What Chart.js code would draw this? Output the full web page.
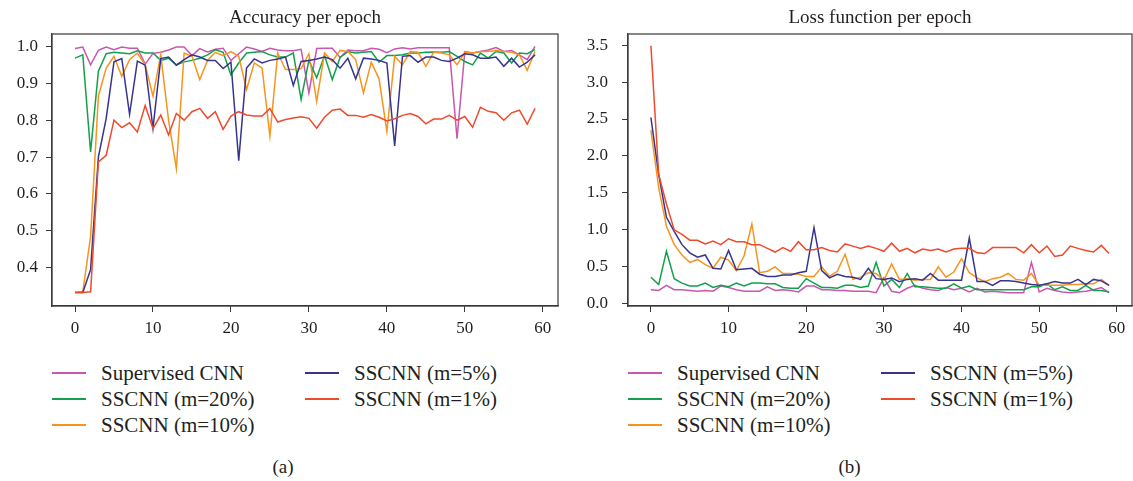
<!DOCTYPE html>
<html>
<head>
<meta charset="utf-8">
<script src="https://cdn.jsdelivr.net/npm/chart.js@4.4.1/dist/chart.umd.min.js"></script>
<style>
    html, body { margin: 0; padding: 0; background: #fff; }
    body { width: 1133px; height: 481px; position: relative; overflow: hidden; font-family: 'Liberation Serif', 'Times New Roman', serif; color: #231f20; }
    .panel { position: absolute; top: 0; height: 481px; }
    .panel canvas { position: absolute; left: 0; top: 0; }
    .legend-item { position: absolute; height: 24px; white-space: nowrap; font-size: 21px; line-height: 24px; }
    .legend-item .swatch { position: absolute; left: 0; top: 11px; width: 34px; height: 2px; }
    .legend-item .text { position: absolute; left: 49px; top: 0; }
    .caption { position: absolute; top: 456px; width: 100%; text-align: center; font-size: 19px; line-height: 22px; }
</style>
</head>
<body>
<div class="panel" id="panelA" style="left:0;width:566px;">
    <canvas id="accChart" width="566" height="345"></canvas>
</div>
<div class="panel" id="panelB" style="left:566px;width:567px;">
    <canvas id="lossChart" width="567" height="345"></canvas>
</div>
<script>
// ---- data ----
const epochs = [0, 1, 2, 3, 4, 5, 6, 7, 8, 9, 10, 11, 12, 13, 14, 15, 16, 17, 18, 19,
    20, 21, 22, 23, 24, 25, 26, 27, 28, 29, 30, 31, 32, 33, 34, 35, 36, 37, 38, 39,
    40, 41, 42, 43, 44, 45, 46, 47, 48, 49, 50, 51, 52, 53, 54, 55, 56, 57, 58, 59];

const seriesNames = ['Supervised CNN', 'SSCNN (m=20%)', 'SSCNN (m=10%)', 'SSCNN (m=5%)', 'SSCNN (m=1%)'];
const seriesColors = ['#c857b0', '#13a04c', '#f7941e', '#37338f', '#ef4a2c'];

const xTicks = [0, 10, 20, 30, 40, 50, 60];
const accTicks = [0.4, 0.5, 0.6, 0.7, 0.8, 0.9, 1.0];
const lossTicks = [0.0, 0.5, 1.0, 1.5, 2.0, 2.5, 3.0, 3.5];

// Accuracy per epoch
const accSupervised = [0.994, 0.998, 0.950, 0.989, 0.998, 0.991, 0.998, 0.995, 0.995, 0.952,
    0.981, 0.984, 0.990, 0.998, 0.998, 0.975, 0.994, 0.985, 0.992, 0.995,
    0.962, 0.980, 0.998, 0.993, 0.986, 0.995, 0.990, 0.988, 0.988, 0.992,
    0.874, 0.994, 0.995, 0.995, 0.970, 0.990, 0.988, 0.988, 0.995, 0.992,
    0.983, 0.993, 0.996, 0.993, 0.996, 0.996, 0.996, 0.996, 0.996, 0.750,
    0.986, 0.982, 0.986, 0.990, 0.997, 0.986, 0.989, 0.977, 0.964, 1.000];
const accM20 = [0.968, 0.977, 0.714, 0.933, 0.980, 0.984, 0.982, 0.980, 0.988, 0.982,
    0.982, 0.962, 0.968, 0.950, 0.958, 0.962, 0.968, 0.977, 0.991, 0.984,
    0.923, 0.955, 0.982, 0.984, 0.986, 0.977, 0.971, 0.971, 0.982, 0.856,
    0.962, 0.915, 0.975, 0.910, 0.970, 0.986, 0.982, 0.984, 0.986, 0.957,
    0.975, 0.975, 0.977, 0.982, 0.982, 0.984, 0.985, 0.984, 0.986, 0.973,
    0.959, 0.950, 0.982, 0.968, 0.986, 0.982, 0.955, 0.982, 0.980, 0.991];
const accM10 = [0.333, 0.335, 0.485, 0.865, 0.941, 0.973, 0.919, 0.964, 0.982, 0.950,
    0.865, 0.977, 0.800, 0.669, 0.982, 0.973, 0.910, 0.962, 0.984, 0.975,
    0.986, 0.973, 0.883, 0.955, 0.941, 0.757, 0.982, 0.937, 0.937, 0.940,
    0.980, 0.851, 0.982, 0.959, 0.989, 0.986, 0.964, 0.874, 0.957, 0.912,
    0.770, 0.973, 0.950, 0.986, 0.984, 0.946, 0.984, 0.982, 0.977, 0.950,
    0.984, 0.982, 0.986, 0.986, 0.989, 0.986, 0.984, 0.977, 0.935, 0.986];
const accM5 = [0.333, 0.333, 0.395, 0.700, 0.805, 0.958, 0.967, 0.816, 0.960, 0.949,
    0.778, 0.967, 0.971, 0.949, 0.964, 0.977, 0.971, 0.962, 0.962, 0.940,
    0.957, 0.690, 0.941, 0.966, 0.955, 0.962, 0.966, 0.971, 0.894, 0.959,
    0.962, 0.966, 0.971, 0.964, 0.941, 0.968, 0.912, 0.968, 0.966, 0.962,
    0.955, 0.730, 0.973, 0.975, 0.957, 0.971, 0.971, 0.962, 0.959, 0.968,
    0.980, 0.977, 0.968, 0.968, 0.971, 0.946, 0.968, 0.944, 0.957, 0.977];
const accM1 = [0.333, 0.333, 0.335, 0.687, 0.705, 0.800, 0.780, 0.793, 0.768, 0.840,
    0.777, 0.814, 0.760, 0.818, 0.800, 0.823, 0.832, 0.805, 0.823, 0.775,
    0.811, 0.823, 0.814, 0.811, 0.811, 0.832, 0.795, 0.802, 0.806, 0.809,
    0.805, 0.778, 0.808, 0.827, 0.830, 0.813, 0.813, 0.808, 0.815, 0.808,
    0.798, 0.804, 0.813, 0.818, 0.810, 0.790, 0.803, 0.803, 0.813, 0.800,
    0.810, 0.781, 0.835, 0.824, 0.820, 0.800, 0.820, 0.827, 0.789, 0.832];

// Loss function per epoch
const lossSupervised = [0.19, 0.18, 0.25, 0.19, 0.19, 0.18, 0.17, 0.18, 0.17, 0.24,
    0.22, 0.19, 0.17, 0.17, 0.17, 0.23, 0.18, 0.19, 0.18, 0.16,
    0.24, 0.24, 0.19, 0.19, 0.18, 0.18, 0.17, 0.17, 0.17, 0.15,
    0.35, 0.17, 0.15, 0.21, 0.25, 0.21, 0.19, 0.18, 0.22, 0.19,
    0.21, 0.16, 0.21, 0.16, 0.17, 0.16, 0.15, 0.15, 0.15, 0.56,
    0.16, 0.21, 0.18, 0.16, 0.15, 0.16, 0.17, 0.19, 0.22, 0.15];
const lossM20 = [0.36, 0.26, 0.71, 0.34, 0.28, 0.24, 0.24, 0.28, 0.22, 0.25,
    0.23, 0.28, 0.24, 0.28, 0.28, 0.27, 0.27, 0.22, 0.21, 0.21,
    0.34, 0.28, 0.22, 0.22, 0.21, 0.25, 0.25, 0.22, 0.24, 0.56,
    0.24, 0.33, 0.22, 0.41, 0.23, 0.23, 0.22, 0.21, 0.21, 0.27,
    0.21, 0.24, 0.19, 0.19, 0.19, 0.19, 0.19, 0.19, 0.19, 0.23,
    0.23, 0.27, 0.19, 0.23, 0.18, 0.18, 0.25, 0.18, 0.18, 0.16];
const lossM10 = [2.35, 1.57, 1.05, 0.80, 0.66, 0.56, 0.60, 0.53, 0.48, 0.63,
    0.59, 0.45, 0.65, 1.08, 0.42, 0.44, 0.50, 0.41, 0.41, 0.40,
    0.37, 0.37, 0.50, 0.37, 0.44, 0.67, 0.33, 0.36, 0.42, 0.41,
    0.32, 0.54, 0.33, 0.34, 0.32, 0.33, 0.33, 0.50, 0.36, 0.43,
    0.61, 0.42, 0.35, 0.30, 0.34, 0.36, 0.41, 0.33, 0.32, 0.41,
    0.25, 0.25, 0.25, 0.25, 0.26, 0.26, 0.27, 0.27, 0.33, 0.25];
const lossM5 = [2.52, 1.75, 1.17, 0.98, 0.80, 0.69, 0.63, 0.66, 0.48, 0.47,
    0.72, 0.46, 0.47, 0.48, 0.40, 0.37, 0.37, 0.39, 0.39, 0.42,
    0.44, 1.03, 0.45, 0.35, 0.40, 0.37, 0.36, 0.33, 0.48, 0.34,
    0.33, 0.35, 0.30, 0.33, 0.34, 0.32, 0.41, 0.32, 0.32, 0.32,
    0.32, 0.89, 0.30, 0.30, 0.25, 0.31, 0.31, 0.30, 0.28, 0.26,
    0.25, 0.27, 0.30, 0.28, 0.28, 0.33, 0.26, 0.33, 0.31, 0.25];
const lossM1 = [3.49, 1.75, 1.35, 1.00, 0.94, 0.86, 0.86, 0.81, 0.85, 0.80,
    0.88, 0.84, 0.84, 0.80, 0.80, 0.75, 0.70, 0.76, 0.71, 0.84,
    0.73, 0.73, 0.76, 0.72, 0.70, 0.81, 0.78, 0.75, 0.78, 0.75,
    0.71, 0.82, 0.71, 0.75, 0.69, 0.74, 0.72, 0.74, 0.70, 0.74,
    0.75, 0.75, 0.69, 0.68, 0.76, 0.76, 0.76, 0.76, 0.69, 0.80,
    0.69, 0.78, 0.64, 0.66, 0.78, 0.75, 0.72, 0.70, 0.79, 0.68];

const AXIS_COLOR = '#3a3a3a';
const TEXT_COLOR = '#231f20';
const FONT_FAMILY = "'Liberation Serif', 'Times New Roman', serif";

/**
 * Draws the closed box round the plot area (matplotlib style frame)
 * and the title centred over the plot area, not over the canvas
 */
const framePlugin = {
    id: 'frame',
    afterDraw(chart, args, opts) {
        const a = chart.chartArea;
        const ctx = chart.ctx;
        ctx.save();
        ctx.strokeStyle = AXIS_COLOR;
        ctx.lineWidth = 1.2;
        ctx.strokeRect(a.left, a.top, a.right - a.left, a.bottom - a.top);

        if (opts.title) {
            ctx.fillStyle = TEXT_COLOR;
            ctx.font = '19px ' + FONT_FAMILY;
            ctx.textAlign = 'center';
            ctx.textBaseline = 'middle';
            ctx.fillText(opts.title, (a.left + a.right) / 2, 18);
        }
        ctx.restore();
    }
};

function buildDatasets(seriesList) {
    return seriesList.map((values, i) => ({
        label: seriesNames[i],
        data: values.map((v, k) => ({ x: epochs[k], y: v })),
        borderColor: seriesColors[i],
        backgroundColor: seriesColors[i],
        borderWidth: 1.5,
        pointRadius: 0,
        tension: 0,
        fill: false,
        order: seriesList.length - i // later series on top, like the original
    }));
}

function makeChart(canvasId, opts) {
    const ctx = document.getElementById(canvasId).getContext('2d');
    return new Chart(ctx, {
        type: 'line',
        data: { datasets: buildDatasets(opts.series) },
        options: {
            responsive: false,
            animation: false,
            devicePixelRatio: 1,
            layout: { padding: { left: 0, right: opts.padRight, top: 34, bottom: 0 } },
            plugins: {
                legend: { display: false },
                tooltip: { enabled: false },
                title: { display: false },
                frame: { title: opts.title }
            },
            scales: {
                x: {
                    type: 'linear',
                    min: -2.95,
                    max: 61.95,
                    afterFit: s => { s.height = 39; },
                    afterBuildTicks: s => { s.ticks = xTicks.map(v => ({ value: v })); },
                    grid: { display: true, drawOnChartArea: false, drawTicks: true, tickLength: 6, color: AXIS_COLOR },
                    border: { display: true, color: AXIS_COLOR, width: 1.2 },
                    ticks: {
                        color: TEXT_COLOR,
                        padding: 6,
                        maxRotation: 0,
                        font: { family: FONT_FAMILY, size: 17 },
                        callback: v => String(v)
                    }
                },
                y: {
                    type: 'linear',
                    min: opts.yMin,
                    max: opts.yMax,
                    afterFit: s => { s.width = opts.yWidth; },
                    afterBuildTicks: s => { s.ticks = opts.yTicks.map(v => ({ value: v })); },
                    grid: { display: true, drawOnChartArea: false, drawTicks: true, tickLength: 6, color: AXIS_COLOR },
                    border: { display: true, color: AXIS_COLOR, width: 1.2 },
                    ticks: {
                        color: TEXT_COLOR,
                        padding: opts.yPad,
                        font: { family: FONT_FAMILY, size: 17 },
                        callback: v => Number(v).toFixed(1)
                    }
                }
            }
        },
        plugins: [framePlugin]
    });
}

/**
 * HTML legend in two columns under the plot, column-major like the figure
 */
function buildLegend(panelId, chart, caption) {
    const panel = document.getElementById(panelId);
    const left = chart.chartArea.left;
    const perColumn = 3;
    chart.data.datasets.forEach((ds, i) => {
        const col = Math.floor(i / perColumn);
        const row = i % perColumn;
        const item = document.createElement('div');
        item.className = 'legend-item';
        item.style.left = (left + col * 253) + 'px';
        item.style.top = (361 + row * 26) + 'px';
        item.innerHTML = '<span class="swatch" style="background:' + ds.borderColor + '"></span>' +
            '<span class="text">' + ds.label + '</span>';
        panel.appendChild(item);
    });
    const cap = document.createElement('div');
    cap.className = 'caption';
    cap.textContent = caption;
    panel.appendChild(cap);
}

const accChart = makeChart('accChart', {
    title: 'Accuracy per epoch',
    series: [accSupervised, accM20, accM10, accM5, accM1],
    yTicks: accTicks,
    yMin: 0.2965,
    yMax: 1.0335,
    yWidth: 52,
    yPad: 8,
    padRight: 8
});

const lossChart = makeChart('lossChart', {
    title: 'Loss function per epoch',
    series: [lossSupervised, lossM20, lossM10, lossM5, lossM1],
    yTicks: lossTicks,
    yMin: -0.03,
    yMax: 3.65,
    yWidth: 62,
    yPad: 14,
    padRight: 1
});

buildLegend('panelA', accChart, '(a)');
buildLegend('panelB', lossChart, '(b)');
</script>
</body>
</html>
